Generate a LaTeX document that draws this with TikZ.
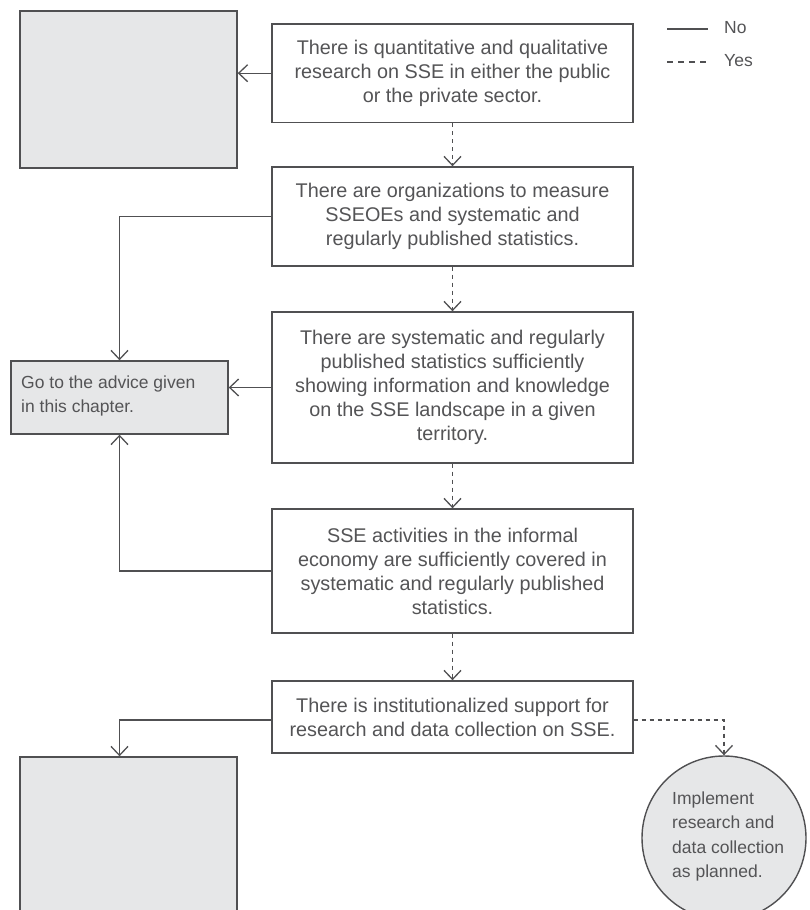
\documentclass[tikz,border=0pt]{standalone}
\usepackage{fontspec}
\setmainfont{Liberation Sans}
\usetikzlibrary{arrows.meta}
\definecolor{ln}{HTML}{505052}
\definecolor{tx}{HTML}{545456}
\definecolor{gf}{HTML}{E6E7E8}
\begin{document}
\begin{tikzpicture}[x=1pt,y=-1pt,
  lnst/.style={draw=ln, line width=1.4pt},
  arr/.style={-{Straight Barb[length=9pt,width=17pt,line width=1.3pt]}},
  dsh/.style={dash pattern=on 4pt off 4pt},
  box/.style={lnst, fill=white, minimum width=361pt, align=center, text=tx,
    font=\fontsize{19.8}{24}\selectfont, inner sep=0pt},
  graybox/.style={lnst, fill=gf, minimum width=217pt, inner sep=0pt},
  sidetext/.style={text=tx, font=\fontsize{17.5}{24.5}\selectfont, inner sep=0pt, align=left}
]
\useasboundingbox (0,0) rectangle (810,910);
\clip (0,0) rectangle (810,910);

% legend
\coordinate (l1a) at (667,29);
\coordinate (l1b) at (708,29);
\coordinate (l2a) at (667,62);
\coordinate (l2b) at (708,62);
\draw[lnst, line width=1.1pt] (l1a) -- (l1b);
\draw[lnst, line width=1.1pt, dash pattern=on 6pt off 5pt] (l2a) -- (l2b);
\node[sidetext, anchor=west] (no) at (724,28) {No};
\node[sidetext, anchor=west] (yes) at (724,61) {Yes};

% gray boxes
\node[graybox, minimum height=157pt] (gtop) at (128.5,89.5) {};
\node[graybox, minimum height=73pt] (gmid) at (119.5,397.5) {};
\node[sidetext, anchor=west] (gmidtext) at (21,396) {Go to the advice given\\in this chapter.};
\node[graybox, minimum height=160pt] (gbot) at (128.5,837) {};

% main boxes
\node[box, minimum height=98.5pt] (b1) at (452.5,73.2) {There is quantitative and qualitative\\research on SSE in either the public\\or the private sector.};
\node[box, minimum height=99pt] (b2) at (452.5,216.5) {There are organizations to measure\\SSEOEs and systematic and\\regularly published statistics.};
\node[box, minimum height=151pt] (b3) at (452.5,387.5) {There are systematic and regularly\\published statistics sufficiently\\showing information and knowledge\\on the SSE landscape in a given\\territory.};
\node[box, minimum height=124pt] (b4) at (452.5,571) {SSE activities in the informal\\economy are sufficiently covered in\\systematic and regularly published\\statistics.};
\node[box, minimum height=72pt] (b5) at (452.5,717) {There is institutionalized support for\\research and data collection on SSE.};

% circle
\node[circle, lnst, fill=gf, minimum size=164pt, inner sep=0pt] (circ) at (724,838) {};
\node[sidetext, anchor=west] (ctext) at (672,836.5) {Implement\\research and\\data collection\\as planned.};

% connectors
\draw[lnst, arr] (b1.west) -- (b1.west -| gtop.east);
\draw[lnst, arr, dsh] (b1.south) -- (b2.north);
\draw[lnst, arr, dsh] (b2.south) -- (b3.north);
\draw[lnst, arr, dsh] (b3.south) -- (b4.north);
\draw[lnst, arr, dsh] (b4.south) -- (b5.north);
\draw[lnst, arr] (b2.west) -| (gmid.north);
\draw[lnst, arr] (b3.west) -- (b3.west -| gmid.east);
\draw[lnst, arr] (b4.west) -| (gmid.south);
\draw[lnst, arr] ([yshift=-3pt]b5.west) -| (gmid.south |- gbot.north);
\draw[lnst, arr, dsh] ([yshift=-3pt]b5.east) -| (circ.north);
\end{tikzpicture}
\end{document}
